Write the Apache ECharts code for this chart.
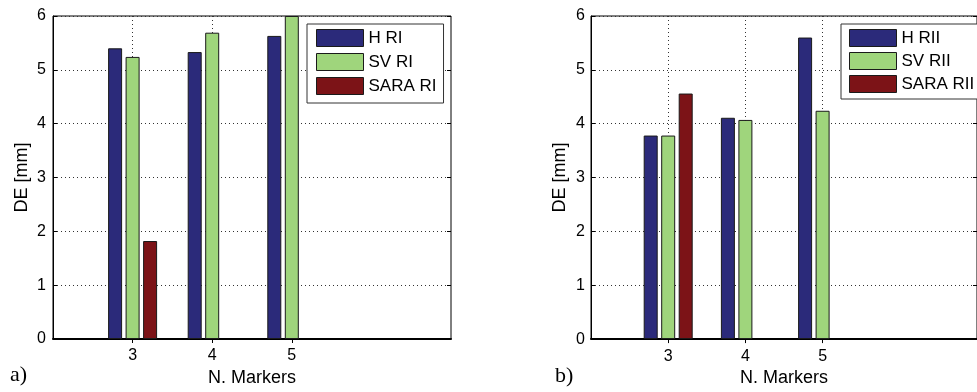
<!DOCTYPE html>
<html>
<head>
<meta charset="utf-8">
<script src="https://cdn.jsdelivr.net/npm/echarts@6/dist/echarts.min.js"></script>
<style>
  html, body { margin: 0; padding: 0; background: #fff; }
  #chart { width: 977px; height: 392px; }
</style>
</head>
<body>
<div id="chart"></div>
<script>
// categories (N. Markers) and the x axis range 2..7
const categories = ['3', '4', '5']
const axisCats = ['2', '3', '4', '5', '6', '7']
const tickLabels = ['3', '4', '5']

// a) RI
const hRI = [5.40, 5.33, 5.63]
const svRI = [5.24, 5.69, 6.0]
const saraRI = [1.82, null, null]

// b) RII
const hRII = [3.78, 4.11, 5.60]
const svRII = [3.78, 4.07, 4.24]
const saraRII = [4.56, null, null]

const FONT = "'Liberation Sans', Arial, sans-serif"
const colors = ['#2b2a7a', '#9fd57c', '#7c1317']

const pairs = (vals) => categories.map((c, i) => [c, vals[i]])
const showTick = (index, value) => tickLabels.indexOf(String(value)) !== -1 ||
  tickLabels.indexOf(axisCats[index]) !== -1

function xAxes(gridIndex, nameGap) {
  return [
    {
      gridIndex,
      type: 'category',
      data: axisCats,
      boundaryGap: false,
      name: 'N. Markers',
      nameLocation: 'middle',
      nameGap,
      nameTextStyle: { fontSize: 18, color: '#000', fontFamily: FONT },
      axisLine: { show: true, lineStyle: { color: '#000', width: 2 } },
      axisTick: { show: true, inside: true, length: 4, interval: showTick, lineStyle: { color: '#000' } },
      axisLabel: {
        interval: showTick,
        margin: 9,
        fontSize: 16,
        color: '#000',
        fontFamily: FONT
      },
      splitLine: {
        show: true,
        interval: showTick,
        lineStyle: { color: '#333', type: [1, 3], width: 1 }
      }
    },
    {
      gridIndex,
      type: 'category',
      data: axisCats,
      boundaryGap: false,
      position: 'top',
      axisLine: { show: false },
      axisTick: { show: true, inside: true, length: 4, interval: showTick, lineStyle: { color: '#000' } },
      axisLabel: { show: false },
      splitLine: { show: false }
    }
  ]
}

function yAxes(gridIndex, margin) {
  return [
    {
      gridIndex,
      type: 'value',
      min: 0,
      max: 6,
      interval: 1,
      name: 'DE [mm]',
      nameLocation: 'middle',
      nameGap: 22,
      nameTextStyle: { fontSize: 18, color: '#000', fontFamily: FONT },
      axisLine: { show: true, lineStyle: { color: '#000', width: 1 } },
      axisTick: { show: true, inside: true, length: 4, lineStyle: { color: '#000' } },
      axisLabel: { margin, fontSize: 16, color: '#000', fontFamily: FONT },
      splitLine: { show: true, lineStyle: { color: '#333', type: [1, 3], width: 1 } }
    },
    {
      gridIndex,
      type: 'value',
      min: 0,
      max: 6,
      interval: 1,
      position: 'right',
      axisLine: { show: false },
      axisTick: { show: true, inside: true, length: 4, lineStyle: { color: '#000' } },
      axisLabel: { show: false },
      splitLine: { show: false }
    }
  ]
}

function barSeries(name, vals, idx, axisIndex) {
  return {
    name,
    type: 'bar',
    xAxisIndex: axisIndex,
    yAxisIndex: axisIndex,
    barWidth: 14,
    barGap: '25%',
    itemStyle: { color: colors[idx], borderColor: '#1a1a1a', borderWidth: 1 },
    data: pairs(vals)
  }
}

function legend(left, padding, itemGap, names) {
  return {
    left,
    top: 24,
    orient: 'vertical',
    data: names,
    icon: 'rect',
    itemWidth: 47,
    itemHeight: 17,
    itemGap,
    padding,
    backgroundColor: '#fff',
    borderColor: '#333',
    borderWidth: 1,
    borderRadius: 0,
    itemStyle: { borderColor: '#1a1a1a', borderWidth: 1 },
    textStyle: { fontSize: 17, color: '#000', fontFamily: FONT }
  }
}

const chart = echarts.init(document.getElementById('chart'))

const option = {
  animation: false,
  backgroundColor: '#fff',
  textStyle: { fontFamily: FONT },
  grid: [
    { left: 53, top: 16, width: 398, height: 326, show: true, borderColor: '#000', borderWidth: 1, backgroundColor: 'transparent' },
    { left: 591, top: 16, width: 397, height: 328, show: true, borderColor: '#000', borderWidth: 1, backgroundColor: 'transparent' }
  ],
  legend: [
    legend(307, [5, 7, 8, 9], 6, ['H RI', 'SV RI', 'SARA RI']),
    legend(841, [5, 6, 6, 8], 5, ['H RII', 'SV RII', 'SARA RII'])
  ],
  xAxis: [...xAxes(0, 30), ...xAxes(1, 28)],
  yAxis: [...yAxes(0, 7), ...yAxes(1, 6)],
  series: [
    barSeries('H RI', hRI, 0, 0),
    barSeries('SV RI', svRI, 1, 0),
    barSeries('SARA RI', saraRI, 2, 0),
    barSeries('H RII', hRII, 0, 2),
    barSeries('SV RII', svRII, 1, 2),
    barSeries('SARA RII', saraRII, 2, 2)
  ],
  graphic: [
    { type: 'text', left: 10, top: 364, style: { text: 'a)', fontSize: 22, fill: '#000', fontFamily: "'Liberation Serif', 'Times New Roman', serif" } },
    { type: 'text', left: 555, top: 365, style: { text: 'b)', fontSize: 22, fill: '#000', fontFamily: "'Liberation Serif', 'Times New Roman', serif" } }
  ]
}

chart.setOption(option)
</script>
</body>
</html>
